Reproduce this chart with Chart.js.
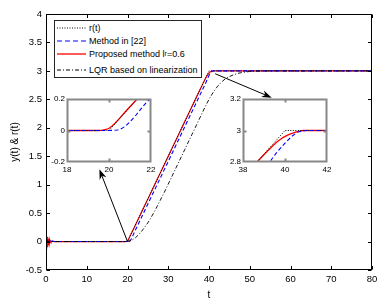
<!DOCTYPE html>
<html>
<head>
<meta charset="utf-8">
<script src="https://cdn.jsdelivr.net/npm/chart.js@4.4.1/dist/chart.umd.min.js"></script>
<style>
html, body { margin: 0; padding: 0; background: #fff; }
#wrap { position: relative; width: 385px; height: 303px; font-family: "Liberation Sans", Arial, sans-serif; }
#wrap canvas { position: absolute; left: 0; top: 0; }
#legend { position: absolute; left: 54px; top: 20px; width: 146px; height: 56px; border: 1px solid #262626; background: #fff; font-size: 9px; color: #000; }
.row { position: absolute; left: 2px; height: 12px; display: flex; align-items: center; white-space: nowrap; }
.row svg { width: 29px; height: 6px; margin-right: 3px; flex: none; }
.row sub { font-size: 7px; vertical-align: -3px; line-height: 0; }
</style>
</head>
<body>
<div id="wrap">
  <canvas id="main" width="385" height="303"></canvas>
  <canvas id="in1" width="385" height="303"></canvas>
  <canvas id="in2" width="385" height="303"></canvas>
  <div id="legend">
    <div class="row" style="top:1px"><svg><line x1="0" y1="3" x2="29" y2="3" stroke="#000" stroke-width="1" stroke-dasharray="1 1.5"/></svg>r(t)</div>
    <div class="row" style="top:14px"><svg><line x1="0" y1="3" x2="29" y2="3" stroke="#00f" stroke-width="1.2" stroke-dasharray="5 3"/></svg>Method in [22]</div>
    <div class="row" style="top:26.5px"><svg><line x1="0" y1="3" x2="29" y2="3" stroke="#f00" stroke-width="1.3"/></svg>Proposed method l<sub>r</sub>=0.6</div>
    <div class="row" style="top:42.5px"><svg><line x1="0" y1="3" x2="29" y2="3" stroke="#000" stroke-width="1" stroke-dasharray="4 2 1 2"/></svg>LQR based on linearization</div>
  </div>
</div>
<script>
// r(t): reference signal
const T_REF = [0, 20, 40, 80];
const Y_REF = [0, 0, 3, 3];

// Method in [22]
const T_M22 = [0, 0.3, 0.6, 0.9, 1.2, 1.5, 2, 20, 20.2, 20.4, 20.6, 20.8, 21, 21.3, 21.6, 21.9, 25, 30, 35, 39.27, 39.6, 40, 40.3, 40.6, 41, 42, 80];
const Y_M22 = [0, 0.03, -0.03, 0.025, -0.02, 0.01, 0, 0, 0.001, 0.003, 0.012, 0.03, 0.055, 0.1, 0.15, 0.195, 0.66, 1.41, 2.16, 2.8, 2.86, 2.92, 2.96, 2.99, 3, 3, 3];

// Proposed method l_r = 0.6
const T_PROP = [0, 0.1, 0.2, 0.3, 0.4, 0.5, 0.6, 0.7, 0.8, 0.9, 1.0, 1.2, 1.5, 2, 19.5, 19.7, 19.9, 20, 20.15, 20.3, 20.5, 20.8, 21.34, 22, 25, 30, 35, 38.67, 39.2, 39.6, 39.9, 40.2, 40.5, 40.86, 42, 80];
const Y_PROP = [0, -0.14, 0.1, -0.09, 0.08, -0.06, 0.05, -0.04, 0.03, -0.02, 0.015, -0.01, 0.005, 0, 0, 0.002, 0.008, 0.014, 0.028, 0.048, 0.077, 0.122, 0.2, 0.3, 0.75, 1.5, 2.25, 2.8, 2.875, 2.925, 2.955, 2.975, 2.99, 3, 3, 3];

// LQR based on linearization
const T_LQR = [0, 20, 21, 22, 23, 24, 25, 26, 27, 28, 29, 30, 32, 34, 36, 38, 39, 40, 41, 42, 43, 44, 45, 46, 47, 48, 50, 52, 55, 80];
const Y_LQR = [0, 0, 0.02, 0.07, 0.14, 0.23, 0.33, 0.45, 0.58, 0.72, 0.86, 1.01, 1.31, 1.61, 1.91, 2.21, 2.36, 2.5, 2.62, 2.72, 2.8, 2.86, 2.9, 2.93, 2.955, 2.97, 2.99, 2.997, 3, 3];

// tick values
const X_TICKS = [0, 10, 20, 30, 40, 50, 60, 70, 80];
const Y_TICKS = [-0.5, 0, 0.5, 1, 1.5, 2, 2.5, 3, 3.5, 4];
const IN1_X = [18, 20, 22], IN1_Y = [-0.2, 0, 0.2];
const IN2_X = [38, 40, 42], IN2_Y = [2.8, 3, 3.2];

// annotation arrows [x0, y0, x1, y1] in data units (tail -> head)
const ARROWS = [[20, 0, 13.1, 1.27], [41.5, 2.95, 55.4, 2.53]];

const pts = (T, Y) => T.map((t, i) => ({x: t, y: Y[i]}));
const FONT = '"Liberation Sans", Arial, sans-serif';

function series(withLqr, wScale) {
  const d = [
    {data: pts(T_PROP, Y_PROP), borderColor: '#ff0000', borderWidth: 1.2 * wScale, order: 3},
    {data: pts(T_REF, Y_REF), borderColor: '#000', borderWidth: 1, borderDash: [1, 1.5], order: 2},
    {data: pts(T_M22, Y_M22), borderColor: '#0000ff', borderWidth: 1.1, borderDash: [4, 2.5], order: 1},
  ];
  if (withLqr) d.push({data: pts(T_LQR, Y_LQR), borderColor: '#000', borderWidth: 0.9, borderDash: [4, 2, 1, 2], order: 0});
  d.forEach(s => { s.pointRadius = 0; s.tension = 0; s.fill = false; });
  return d;
}

// frame + inward ticks, optional white plot background, arrows
const frame = {
  id: 'frame',
  beforeDatasetsDraw(c, a, o) {
    if (!o.fill) return;
    const ca = c.chartArea, ctx = c.ctx;
    ctx.save(); ctx.fillStyle = o.fill;
    ctx.fillRect(ca.left, ca.top, ca.width, ca.height); ctx.restore();
  },
  afterDatasetsDraw(c, a, o) {
    const {ctx, chartArea: ca, scales: {x, y}} = c;
    const L = Math.round(ca.left) + .5, R = Math.round(ca.right) - .5;
    const T = Math.round(ca.top) + .5, B = Math.round(ca.bottom) - .5;
    ctx.save();
    ctx.strokeStyle = o.color; ctx.lineWidth = o.width;
    ctx.beginPath();
    o.xt.forEach(v => {
      const px = Math.round(x.getPixelForValue(v)) + .5;
      ctx.moveTo(px, B); ctx.lineTo(px, B - o.len);
      ctx.moveTo(px, T); ctx.lineTo(px, T + o.len);
    });
    o.yt.forEach(v => {
      const py = Math.round(y.getPixelForValue(v)) + .5;
      ctx.moveTo(L, py); ctx.lineTo(L + o.len, py);
      ctx.moveTo(R, py); ctx.lineTo(R - o.len, py);
    });
    ctx.stroke();
    ctx.strokeRect(L, T, R - L, B - T);
    ctx.restore();
  },
  afterDraw(c, a, o) {
    if (!o.arrows) return;
    const {ctx, scales: {x, y}} = c;
    ctx.save(); ctx.strokeStyle = '#000'; ctx.fillStyle = '#000'; ctx.lineWidth = 1;
    o.arrows.forEach(([x0, y0, x1, y1]) => {
      const ax = x.getPixelForValue(x0), ay = y.getPixelForValue(y0);
      const bx = x.getPixelForValue(x1), by = y.getPixelForValue(y1);
      const ang = Math.atan2(by - ay, bx - ax), len = 10, hw = 3.6;
      const cs = Math.cos(ang), sn = Math.sin(ang);
      ctx.beginPath(); ctx.moveTo(ax, ay); ctx.lineTo(bx - cs * 6, by - sn * 6); ctx.stroke();
      ctx.beginPath();
      ctx.moveTo(bx, by);
      ctx.lineTo(bx - cs * len - sn * hw, by - sn * len + cs * hw);
      ctx.lineTo(bx - cs * (len - 3), by - sn * (len - 3));
      ctx.lineTo(bx - cs * len + sn * hw, by - sn * len - cs * hw);
      ctx.closePath(); ctx.fill();
    });
    ctx.restore();
  }
};

const fixTicks = vals => s => { s.ticks = vals.map(v => ({value: v})); };
const label = v => String(+v.toFixed(2));

function axis(min, max, vals, fs, pad, fit, title) {
  return {
    type: 'linear', min, max,
    afterBuildTicks: fixTicks(vals),
    afterFit: s => { if (s.isHorizontal()) s.height = fit; else s.width = fit; },
    grid: {display: false, drawTicks: false},
    border: {display: false},
    ticks: {color: '#000', font: {family: FONT, size: fs}, padding: pad, callback: label, maxRotation: 0, autoSkip: false},
    title: title || {display: false}
  };
}

function make(id, datasets, pad, sx, sy, plug) {
  return new Chart(document.getElementById(id), {
    type: 'line',
    data: {datasets},
    options: {
      responsive: false, animation: false, events: [],
      layout: {padding: pad},
      scales: {x: sx, y: sy},
      plugins: {legend: {display: false}, tooltip: {enabled: false}, frame: plug}
    },
    plugins: [frame]
  });
}

// main axes: plot area x 46..372, y 14..270
make('main', series(true, 1), {left: 0, top: 14, right: 13, bottom: 0},
  axis(0, 80, X_TICKS, 9.5, 4, 33, {display: true, text: 't', color: '#000', font: {family: FONT, size: 10}, padding: {top: 0, bottom: 2}}),
  axis(-0.5, 4, Y_TICKS, 9.5, 4, 46, {display: true, text: 'y(t) & r(t)', color: '#000', font: {family: FONT, size: 10}, padding: {top: 9, bottom: 0}}),
  {color: '#000', width: 1, len: 3.5, xt: X_TICKS, yt: Y_TICKS, arrows: ARROWS});

// inset 1: plot area x 67..151, y 99..162
make('in1', series(false, 1.1), {left: 47, top: 99, right: 234, bottom: 129},
  axis(18, 22, IN1_X, 8, 3, 12),
  axis(-0.2, 0.2, IN1_Y, 8, 2, 20),
  {color: '#888', width: 2, len: 3, xt: [20], yt: [0], fill: '#fff'});

// inset 2: plot area x 243..327, y 99..162
make('in2', series(false, 1.1), {left: 223, top: 99, right: 58, bottom: 129},
  axis(38, 42, IN2_X, 8, 3, 12),
  axis(2.8, 3.2, IN2_Y, 8, 2, 20),
  {color: '#888', width: 2, len: 3, xt: [40], yt: [3], fill: '#fff'});
</script>
</body>
</html>
